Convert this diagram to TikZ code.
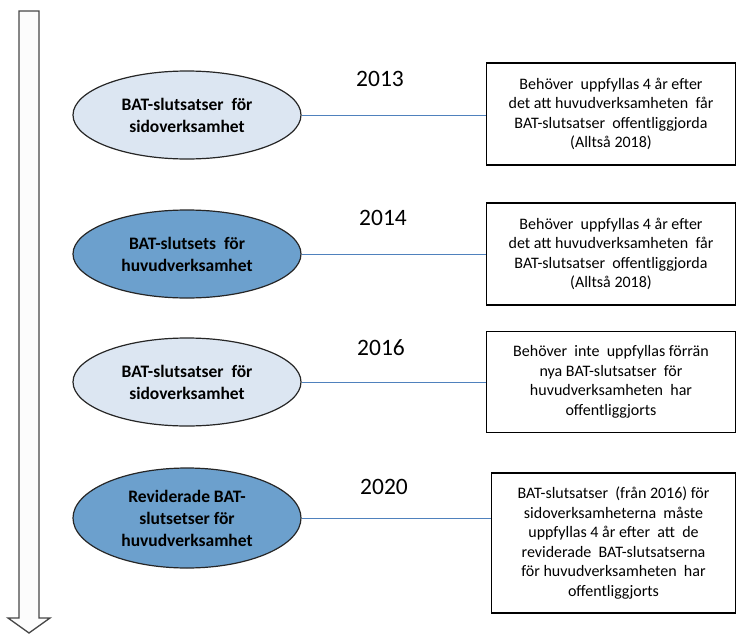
\documentclass[tikz,border=0pt]{standalone}
\usepackage{fontspec}
\setmainfont{Carlito}
\usetikzlibrary{shapes.geometric}
\definecolor{lightell}{RGB}{220,230,242}
\definecolor{darkell}{RGB}{108,160,205}
\definecolor{linkblue}{RGB}{79,129,189}
\definecolor{arrowgray}{RGB}{70,70,70}
\tikzset{
  ellbase/.style={ellipse, draw=black!85, line width=1.2pt, minimum width=228pt, minimum height=88pt, inner sep=0pt, align=center, font=\fontsize{17.5}{22}\selectfont\bfseries},
  lightellipse/.style={ellbase, fill=lightell},
  darkellipse/.style={ellbase, fill=darkell},
  notebox/.style={draw=black, line width=1.5pt, fill=white, align=center, inner sep=0pt, font=\fontsize{16}{19.5}\selectfont},
  yearlabel/.style={font=\fontsize{23.5}{26}\selectfont, inner sep=0pt},
  link/.style={draw=linkblue, line width=1pt}
}
\begin{document}
\begin{tikzpicture}[x=1pt,y=-1pt]
\useasboundingbox (0,0) rectangle (737,635);
% timeline arrow
\draw[arrowgray, line width=1.3pt, fill=white!98!gray, line join=miter]
  (19,11) -- (39,11) -- (39,618) -- (50,618) -- (29,633) -- (8,618) -- (19,618) -- cycle;
% ellipses
\node[lightellipse] (e1) at (187,115) {BAT-slutsatser\ \ för\\sidoverksamhet};
\node[darkellipse]  (e2) at (187,254) {BAT-slutsets\ \ för\\huvudverksamhet};
\node[lightellipse] (e3) at (187,382) {BAT-slutsatser\ \ för\\sidoverksamhet};
\node[darkellipse, minimum height=100pt]  (e4) at (187,518) {Reviderade BAT-\\slutsetser för\\huvudverksamhet};
% boxes
\node[notebox, minimum width=249pt, minimum height=102pt] (b1) at (611,114)
  {Behöver\ \ uppfyllas 4 år efter\\det att huvudverksamheten\ \ får\\BAT-slutsatser\ \ offentliggjorda\\(Alltså 2018)};
\node[notebox, minimum width=249pt, minimum height=102pt] (b2) at (611,254)
  {Behöver\ \ uppfyllas 4 år efter\\det att huvudverksamheten\ \ får\\BAT-slutsatser\ \ offentliggjorda\\(Alltså 2018)};
\node[notebox, minimum width=249pt, minimum height=101pt] (b3) at (611,382)
  {Behöver\ \ inte\ \ uppfyllas förrän\\nya BAT-slutsatser\ \ för\\huvudverksamheten\ \ har\\offentliggjorts};
\node[notebox, minimum width=244pt, minimum height=140pt] (b4) at (613.5,543)
  {BAT-slutsatser\ \ (från 2016) för\\sidoverksamheterna\ \ måste\\uppfyllas 4 år efter\ \ att\ \ de\\reviderade\ \ BAT-slutsatserna\\för huvudverksamheten\ \ har\\offentliggjorts};
% connectors
\draw[link] (e1.east) -- (e1.east -| b1.west);
\draw[link] (e2.east) -- (e2.east -| b2.west);
\draw[link] (e3.east) -- (e3.east -| b3.west);
\draw[link] (e4.east) -- (e4.east -| b4.west);
% years
\node[yearlabel] (y1) at (380,79) {2013};
\node[yearlabel] (y2) at (383,218) {2014};
\node[yearlabel] (y3) at (381,348) {2016};
\node[yearlabel] (y4) at (384,487) {2020};
\end{tikzpicture}
\end{document}
